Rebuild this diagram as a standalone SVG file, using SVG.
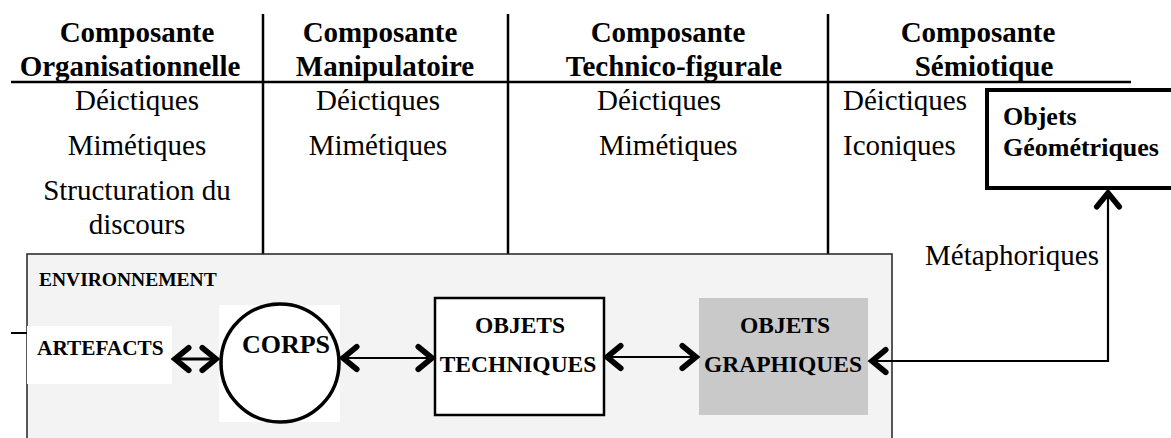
<svg xmlns="http://www.w3.org/2000/svg" width="1171" height="438" viewBox="0 0 1171 438">
<style>
.h{font-family:"Liberation Serif","Times New Roman",serif;font-weight:bold;font-size:29px;fill:#000;text-anchor:middle}
.t{font-family:"Liberation Serif","Times New Roman",serif;font-size:29px;fill:#000}
.m{text-anchor:middle}
.b{font-family:"Liberation Serif","Times New Roman",serif;font-weight:bold;fill:#000}
.ln{stroke:#000;stroke-width:2.5;fill:none}
.conn{stroke:#000;fill:none}
.head{stroke:#000;stroke-width:4.5;fill:none;stroke-linecap:round;stroke-linejoin:miter}
</style>
<defs>
<marker id="ah" markerUnits="userSpaceOnUse" markerWidth="30" markerHeight="30" viewBox="-14 -12 18 24" refX="0" refY="0" orient="auto-start-reverse">
<polyline points="-11,-9 0,0 -11,9" class="head"/>
</marker>
</defs>
<rect width="1171" height="438" fill="#fff"/>
<g id="grid">
<line x1="11" y1="82" x2="1131" y2="82" class="ln"/>
<line x1="263" y1="14" x2="263" y2="254" class="ln"/>
<line x1="508" y1="14" x2="508" y2="254" class="ln"/>
<line x1="828" y1="14" x2="828" y2="254" class="ln"/>
</g>
<g id="headers">
<text class="h" x="137" y="42">Composante</text>
<text class="h" x="130" y="76">Organisationnelle</text>
<text class="h" x="380" y="42">Composante</text>
<text class="h" x="385" y="76">Manipulatoire</text>
<text class="h" x="668" y="42">Composante</text>
<text class="h" x="674" y="76">Technico-figurale</text>
<text class="h" x="978" y="42">Composante</text>
<text class="h" x="984" y="76">Sémiotique</text>
</g>
<g id="col1">
<text class="t m" x="137" y="110">Déictiques</text>
<text class="t m" x="137" y="155">Mimétiques</text>
<text class="t m" x="137" y="200">Structuration du</text>
<text class="t m" x="137" y="234">discours</text>
</g>
<g id="col2">
<text class="t m" x="378" y="110">Déictiques</text>
<text class="t m" x="378" y="155">Mimétiques</text>
</g>
<g id="col3">
<text class="t" x="597" y="110">Déictiques</text>
<text class="t" x="599" y="155">Mimétiques</text>
</g>
<g id="col4">
<text class="t" x="843" y="110">Déictiques</text>
<text class="t" x="843" y="155">Iconiques</text>
<text class="t" x="925" y="265">Métaphoriques</text>
</g>
<g id="objets-geometriques">
<rect x="987" y="90" width="190" height="98" fill="#fff" stroke="#000" stroke-width="4"/>
<text class="b" x="1003" y="125" font-size="26">Objets</text>
<text class="b" x="1003" y="156" font-size="26">Géométriques</text>
</g>
<g id="environnement">
<rect x="27" y="254" width="865" height="200" fill="#f3f3f3" stroke="#222" stroke-width="1.5"/>
<line x1="11" y1="333" x2="27" y2="333" stroke="#000" stroke-width="2"/>
<text class="b" x="39" y="286" font-size="19.5">ENVIRONNEMENT</text>
</g>
<g id="artefacts">
<rect x="27" y="326" width="145" height="58" fill="#fff"/>
<text class="b" x="37" y="355" font-size="21.3">ARTEFACTS</text>
</g>
<g id="corps">
<rect x="219" y="305" width="121" height="117" fill="#fff"/>
<circle cx="280" cy="363" r="59" fill="#fff" stroke="#000" stroke-width="3.5"/>
<text class="b" x="286" y="353" font-size="26" text-anchor="middle">CORPS</text>
</g>
<g id="objets-techniques">
<rect x="435" y="298" width="169" height="117" fill="#fff" stroke="#000" stroke-width="2.5"/>
<text class="b" x="520" y="333" font-size="23.5" text-anchor="middle">OBJETS</text>
<text class="b" x="518" y="372" font-size="23.5" text-anchor="middle">TECHNIQUES</text>
</g>
<g id="objets-graphiques">
<rect x="699" y="298" width="169" height="117" fill="#c9c9c9"/>
<text class="b" x="785" y="333" font-size="23.5" text-anchor="middle">OBJETS</text>
<text class="b" x="783" y="372" font-size="23.5" text-anchor="middle">GRAPHIQUES</text>
</g>
<g id="connectors">
<line x1="175" y1="359" x2="216" y2="359" class="conn" stroke-width="3" marker-start="url(#ah)" marker-end="url(#ah)"/>
<line x1="343" y1="358" x2="432" y2="358" class="conn" stroke-width="2.2" marker-start="url(#ah)" marker-end="url(#ah)"/>
<line x1="607" y1="357" x2="696" y2="357" class="conn" stroke-width="2.2" marker-start="url(#ah)" marker-end="url(#ah)"/>
<polyline points="872,361 1108,361 1108,193" class="conn" stroke-width="2.2" marker-start="url(#ah)" marker-end="url(#ah)"/>
</g>
</svg>
